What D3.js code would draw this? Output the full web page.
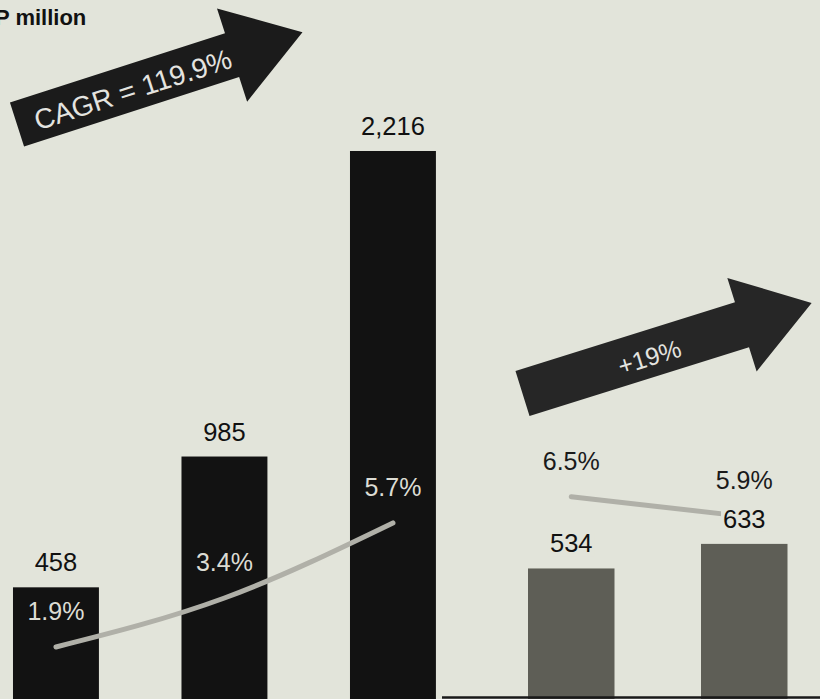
<!DOCTYPE html>
<html>
<head>
<meta charset="utf-8">
<script src="https://cdn.jsdelivr.net/npm/d3@7"></script>
<style>
  html, body { margin: 0; padding: 0; background: #e2e4da; overflow: hidden; }
  svg { display: block; }
  text { font-family: "Liberation Sans", Arial, Helvetica, sans-serif; }
</style>
</head>
<body>
<svg id="chart" width="820" height="699"></svg>
<script>
// ---- data ----
const periods = ["p1", "p2", "p3", "p4", "p5"];
const panels = ["left", "left", "left", "right", "right"];
const revenue = [458, 985, 2216, 534, 633];
const revenueLabels = ["458", "985", "2,216", "534", "633"];
const share = [1.9, 3.4, 5.7, 6.5, 5.9];
const shareLabels = ["1.9%", "3.4%", "5.7%", "6.5%", "5.9%"];
const unitLabel = "P million";
const growthLabels = ["CAGR = 119.9%", "+19%"];

// ---- setup ----
const W = 820, H = 699;
const svg = d3.select("#chart");
const bg = "#e2e4da";

svg.append("rect").attr("width", W).attr("height", H).attr("fill", bg);

const rows = periods.map((p, i) => ({
  key: p, panel: panels[i], value: revenue[i], label: revenueLabels[i],
  pct: share[i], pctLabel: shareLabels[i]
}));

// one band scale per panel
const xLeft = d3.scaleBand()
  .domain(rows.filter(d => d.panel === "left").map(d => d.key))
  .range([-28.3, 477.2])
  .paddingInner(0.49)
  .paddingOuter(0.245);

const xRight = d3.scaleBand()
  .domain(rows.filter(d => d.panel === "right").map(d => d.key))
  .range([484.75, 830.75])
  .paddingInner(0.5)
  .paddingOuter(0.25);

const xs = { left: xLeft, right: xRight };
const bx = d => xs[d.panel](d.key);
const bw = d => xs[d.panel].bandwidth();
const cx = d => bx(d) + bw(d) / 2;

const y = d3.scaleLinear()
  .domain([0, 2400])
  .range([701, 701 - 2400 * 0.2482]);

const yPct = d3.scaleLinear()
  .domain([0, 8])
  .range([709, 709 - 8 * 32.65]);

const barFill = { left: "#121212", right: "#5e5e56" };

// ---- bars ----
svg.append("g").selectAll("rect")
  .data(rows)
  .join("rect")
  .attr("x", bx)
  .attr("width", bw)
  .attr("y", d => y(d.value))
  .attr("height", d => y(0) - y(d.value))
  .attr("fill", d => barFill[d.panel]);

// baseline under the right-hand pair
svg.append("line")
  .attr("x1", 442).attr("x2", W)
  .attr("y1", 697.5).attr("y2", 697.5)
  .attr("stroke", "#1a1a1a").attr("stroke-width", 2.5);

// ---- share lines ----
const line = d3.line()
  .x(cx)
  .y(d => yPct(d.pct))
  .curve(d3.curveMonotoneX);

const lineG = svg.append("g");
["left", "right"].forEach(pn => {
  lineG.append("path")
    .datum(rows.filter(d => d.panel === pn))
    .attr("d", line)
    .attr("fill", "none")
    .attr("stroke", "#b0b0a8")
    .attr("stroke-width", 5)
    .attr("stroke-linecap", "round");
});

// ---- value labels above bars ----
const valG = svg.append("g");
rows.forEach(d => {
  const t = valG.append("text")
    .attr("x", cx(d))
    .attr("y", y(d.value) - 16)
    .attr("text-anchor", "middle")
    .attr("font-size", 25.5)
    .attr("fill", "#111")
    .text(d.label);
  if (d.panel === "right") {
    const b = t.node().getBBox();
    valG.insert("rect", () => t.node())
      .attr("x", b.x - 2).attr("y", b.y + 3)
      .attr("width", b.width + 4).attr("height", b.height - 4)
      .attr("fill", bg);
  }
});

// ---- share labels ----
svg.append("g").selectAll("text")
  .data(rows)
  .join("text")
  .attr("x", cx)
  .attr("y", d => yPct(d.pct) - 27)
  .attr("text-anchor", "middle")
  .attr("font-size", 25)
  .attr("fill", d => d.panel === "left" ? "#dcdcd4" : "#1a1a1a")
  .text(d => d.pctLabel);

// ---- unit label ----
svg.append("text")
  .attr("x", -5).attr("y", 25)
  .attr("font-size", 22)
  .attr("font-weight", "bold")
  .attr("fill", "#111")
  .text(unitLabel);

// ---- growth arrows ----
const arrows = [
  { x0: 17, y0: 124.5, angle: -17.9, len: 300, shaft: 46, head: 98, headLen: 74,
    fill: "#1b1b1b", text: growthLabels[0], tAlong: 121, tPerp: 2, fontSize: 28 },
  { x0: 522.5, y0: 393.5, angle: -17.4, len: 303, shaft: 47, head: 98, headLen: 73,
    fill: "#262626", text: growthLabels[1], tAlong: 132, tPerp: 3, fontSize: 25 }
];

arrows.forEach(a => {
  const g = svg.append("g")
    .attr("transform", `translate(${a.x0},${a.y0}) rotate(${a.angle})`);
  const s = a.shaft / 2, h = a.head / 2, b = a.len - a.headLen;
  const pts = [[0, -s], [b, -s], [b, -h], [a.len, 0], [b, h], [b, s], [0, s]];
  g.append("path")
    .attr("d", d3.line()(pts) + "Z")
    .attr("fill", a.fill);
  g.append("text")
    .attr("x", a.tAlong).attr("y", a.tPerp)
    .attr("dy", "0.36em")
    .attr("text-anchor", "middle")
    .attr("font-size", a.fontSize)
    .attr("fill", "#e4e4e0")
    .text(a.text);
});
</script>
</body>
</html>
